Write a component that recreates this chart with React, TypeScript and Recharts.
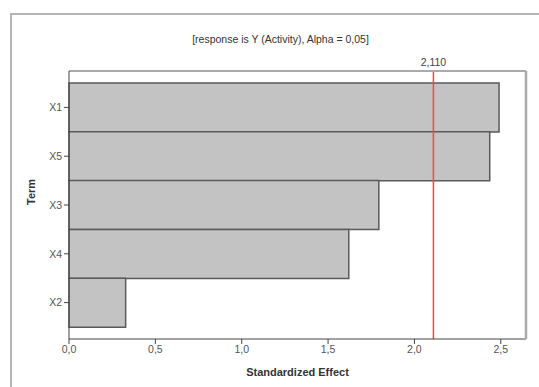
import { BarChart, Bar, XAxis, YAxis, ReferenceLine } from "recharts";

const terms = ["X1", "X5", "X3", "X4", "X2"];
const effects = [2.49, 2.436, 1.794, 1.62, 0.328];
const xTicks = [0, 0.5, 1, 1.5, 2, 2.5];
const criticalValue = 2.11;
const criticalLabel = "2,110";
const title = "[response is Y (Activity), Alpha = 0,05]";

const data = terms.map((term, i) => ({ term, effect: effects[i] }));

const font = "'Liberation Sans', Arial, sans-serif";
const comma = (v: number) => v.toFixed(1).replace(".", ",");

export default function App() {
  return (
    <div style={{ position: "absolute", left: 0, top: 0, width: 539, height: 387, overflow: "hidden", background: "#fff", fontFamily: font }}>
      {/* outer frame, runs off the right and bottom edges */}
      <div style={{ position: "absolute", left: 10, top: 13, width: 600, height: 420, borderLeft: "2px solid #b4b4b4", borderTop: "2px solid #b4b4b4" }} />
      <div style={{ position: "absolute", left: 11, width: 539, top: 33, textAlign: "center", fontSize: 10.5, color: "#333" }}>
        {title}
      </div>
      <div style={{ position: "absolute", left: 0, top: 0 }}>
        <BarChart
          width={539}
          height={387}
          data={data}
          layout="vertical"
          barCategoryGap={0}
          margin={{ top: 70, right: 12, left: 0, bottom: 0 }}
        >
          <XAxis
            type="number"
            domain={[0, 2.646]}
            ticks={xTicks}
            tickFormatter={comma}
            height={48}
            stroke="#444"
            tickSize={5}
            tick={{ fill: "#555", fontSize: 10.5, fontFamily: font }}
            label={{ value: "Standardized Effect", position: "insideBottom", offset: 11, fill: "#333", fontSize: 11, fontWeight: "bold", fontFamily: font }}
          />
          <XAxis
            xAxisId="top"
            orientation="top"
            type="number"
            domain={[0, 2.646]}
            height={1}
            tick={false}
            tickLine={false}
            axisLine={{ stroke: "#aaa", strokeWidth: 2 }}
          />
          <YAxis
            type="category"
            dataKey="term"
            width={69}
            padding={{ top: 12, bottom: 12 }}
            stroke="#444"
            tickSize={5}
            tick={{ fill: "#555", fontSize: 10.5, fontFamily: font }}
            label={{ value: "Term", angle: -90, position: "insideLeft", offset: 31, fill: "#333", fontSize: 11, fontWeight: "bold", fontFamily: font }}
          />
          <YAxis
            yAxisId="right"
            orientation="right"
            type="category"
            dataKey="term"
            width={1}
            tick={false}
            tickLine={false}
            axisLine={{ stroke: "#aaa", strokeWidth: 2.5 }}
          />
          <Bar dataKey="effect" fill="#c3c3c3" stroke="#5a5a5a" strokeWidth={1.5} isAnimationActive={false} />
          <ReferenceLine
            x={criticalValue}
            stroke="#ff4040"
            strokeWidth={1.5}
            label={{ value: criticalLabel, position: "top", offset: 5, fill: "#444", fontSize: 10.5, fontFamily: font }}
          />
        </BarChart>
      </div>
    </div>
  );
}
